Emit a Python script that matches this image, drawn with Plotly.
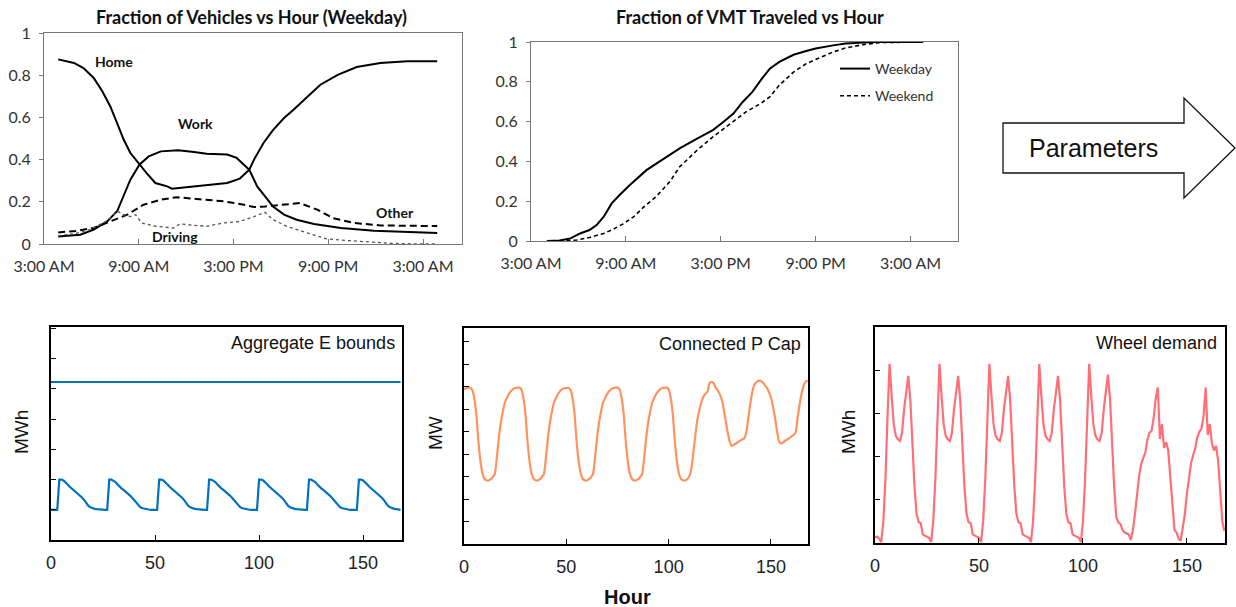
import plotly.graph_objects as go

W, H = 1236, 607

# ---------------- DATA ----------------
# Top-left: fraction of vehicles vs hour (weekday); hour of day, 27 = 3 AM next day
home_hours = [3.9, 4.9, 5.5, 6.15, 6.7, 7.2, 7.63, 8.05, 8.47, 9.04, 9.5, 10.05, 10.8, 11.1, 11.5, 12.3,
              13.3, 14.6, 15.4, 16.0, 16.3, 16.9, 17.5, 18.2, 18.8, 19.7, 20.5, 21.6, 22.8, 24.3, 26.0, 27.9]
home_frac = [0.875, 0.858, 0.834, 0.787, 0.723, 0.652, 0.573, 0.494, 0.431, 0.376, 0.336, 0.289, 0.273,
             0.262, 0.265, 0.27, 0.281, 0.289, 0.31, 0.352, 0.40, 0.479, 0.54, 0.597, 0.636, 0.70, 0.755,
             0.802, 0.839, 0.858, 0.866, 0.866]

work_hours = [3.9, 5.3, 6.15, 7.0, 7.63, 8.05, 8.47, 9.04, 9.63, 10.4, 11.5, 12.5, 13.3, 14.6, 15.2, 16.0,
              16.5, 17.0, 17.5, 18.2, 19.0, 20.1, 21.8, 23.9, 27.9]
work_frac = [0.036, 0.044, 0.068, 0.107, 0.155, 0.226, 0.305, 0.376, 0.415, 0.439, 0.444, 0.436, 0.428,
             0.424, 0.408, 0.352, 0.273, 0.226, 0.178, 0.139, 0.115, 0.095, 0.076, 0.063, 0.052]

other_hours = [3.9, 5.0, 6.15, 7.2, 8.27, 9.3, 10.4, 11.4, 12.3, 13.3, 14.4, 15.4, 16.3, 17.0, 18.0, 19.2,
               20.3, 21.3, 22.6, 24.3, 27.9]
other_frac = [0.055, 0.062, 0.076, 0.107, 0.139, 0.186, 0.21, 0.222, 0.215, 0.21, 0.202, 0.19, 0.175,
              0.178, 0.186, 0.194, 0.163, 0.123, 0.1, 0.088, 0.085]

driving_hours = [3.9, 5.0, 5.9, 7.0, 7.63, 8.05, 8.47, 8.8, 9.2, 10.1, 11.2, 11.6, 12.3, 13.3, 14.4, 15.4,
                 16.3, 17.0, 17.5, 18.4, 19.7, 20.9, 22.1, 23.5, 25.0, 26.9, 27.9]
driving_frac = [0.039, 0.05, 0.068, 0.11, 0.155, 0.139, 0.13, 0.139, 0.099, 0.084, 0.076, 0.095, 0.09,
                0.084, 0.1, 0.107, 0.13, 0.15, 0.115, 0.083, 0.052, 0.024, 0.017, 0.009, 0.003, 0.0, 0.0]

# Top-middle: cumulative fraction of VMT traveled vs hour
vmt_wd_hours = [4.0, 4.8, 5.5, 6.1, 6.7, 7.15, 7.6, 8.1, 8.6, 9.25, 10.3, 11.4, 12.4, 13.5, 14.5, 15.1,
                15.8, 16.4, 17.0, 17.6, 18.1, 18.7, 19.6, 20.4, 21.0, 22.1, 22.9, 24.0, 25.0, 27.8]
vmt_wd_frac = [0.0, 0.002, 0.013, 0.038, 0.055, 0.08, 0.122, 0.189, 0.231, 0.281, 0.356, 0.415, 0.465,
               0.515, 0.557, 0.594, 0.64, 0.70, 0.749, 0.816, 0.866, 0.90, 0.936, 0.955, 0.967, 0.983,
               0.992, 0.997, 1.0, 1.0]
vmt_we_hours = [4.8, 5.9, 6.7, 7.6, 8.2, 8.8, 9.5, 10.1, 10.9, 11.8, 12.4, 13.5, 14.5, 15.6, 16.6, 17.5,
                18.1, 18.7, 19.6, 20.4, 21.3, 22.1, 22.9, 24.0, 25.0, 27.8]
vmt_we_frac = [0.0, 0.005, 0.018, 0.038, 0.059, 0.085, 0.122, 0.169, 0.222, 0.30, 0.373, 0.456, 0.523,
               0.59, 0.649, 0.69, 0.724, 0.783, 0.849, 0.891, 0.921, 0.95, 0.97, 0.987, 0.997, 1.0]

clock_ticks = [3, 9, 15, 21, 27]
clock_labels = ["3:00 AM", "9:00 AM", "3:00 PM", "9:00 PM", "3:00 AM"]

# Bottom: one week, hourly (0..168)
week_hours = list(range(169))
e_upper_bound = 5.23
e_lower_bound = (
    [1.0, 1.0, 1.0, 1.0, 2.0, 2.0, 1.97, 1.92, 1.84, 1.76, 1.7, 1.65, 1.6, 1.54, 1.47, 1.4, 1.32, 1.22, 1.13, 1.08, 1.05, 1.03, 1.02, 1.01]
    + [1.0, 1.0, 1.0, 1.0, 2.0, 2.0, 1.97, 1.92, 1.84, 1.76, 1.7, 1.65, 1.6, 1.54, 1.47, 1.4, 1.32, 1.22, 1.13, 1.08, 1.05, 1.03, 1.02, 1.01]
    + [1.0, 1.0, 1.0, 1.0, 2.0, 2.0, 1.97, 1.92, 1.84, 1.76, 1.7, 1.65, 1.6, 1.54, 1.47, 1.4, 1.32, 1.22, 1.13, 1.08, 1.05, 1.03, 1.02, 1.01]
    + [1.0, 1.0, 1.0, 1.0, 2.0, 2.0, 1.97, 1.92, 1.84, 1.76, 1.7, 1.65, 1.6, 1.54, 1.47, 1.4, 1.32, 1.22, 1.13, 1.08, 1.05, 1.03, 1.02, 1.01]
    + [1.0, 1.0, 1.0, 1.0, 2.0, 2.0, 1.97, 1.92, 1.84, 1.76, 1.7, 1.65, 1.6, 1.54, 1.47, 1.4, 1.32, 1.22, 1.13, 1.08, 1.05, 1.03, 1.02, 1.01]
    + [1.0, 1.0, 1.0, 1.0, 2.0, 2.0, 1.97, 1.92, 1.84, 1.76, 1.7, 1.65, 1.6, 1.54, 1.47, 1.4, 1.32, 1.22, 1.13, 1.08, 1.05, 1.03, 1.02, 1.01]
    + [1.0, 1.0, 1.0, 1.0, 2.0, 2.0, 1.97, 1.92, 1.84, 1.76, 1.7, 1.65, 1.6, 1.54, 1.47, 1.4, 1.32, 1.22, 1.13, 1.08, 1.05, 1.03, 1.02, 1.01, 1.0]
)
p_cap = (
    [6.87, 6.92, 6.95, 6.94, 6.85, 6.5, 5.8, 4.6, 3.7, 3.15, 2.9, 2.83, 2.82, 2.88, 2.97, 3.1, 3.8, 4.7, 5.4, 5.9, 6.3, 6.5, 6.68, 6.8]
    + [6.88, 6.93, 6.95, 6.95, 6.87, 6.5, 5.8, 4.6, 3.7, 3.15, 2.9, 2.83, 2.82, 2.88, 2.97, 3.1, 3.8, 4.7, 5.4, 5.9, 6.3, 6.5, 6.68, 6.8]
    + [6.88, 6.92, 6.94, 6.94, 6.86, 6.5, 5.8, 4.6, 3.7, 3.15, 2.9, 2.83, 2.82, 2.88, 2.97, 3.1, 3.8, 4.7, 5.4, 5.9, 6.3, 6.5, 6.68, 6.8]
    + [6.88, 6.93, 6.95, 6.95, 6.87, 6.5, 5.8, 4.6, 3.7, 3.15, 2.9, 2.83, 2.82, 2.88, 2.97, 3.1, 3.8, 4.7, 5.4, 5.9, 6.3, 6.5, 6.68, 6.8]
    + [6.88, 6.93, 6.95, 6.95, 6.87, 6.5, 5.8, 4.6, 3.7, 3.15, 2.9, 2.83, 2.82, 2.88, 2.99, 3.3, 4.0, 4.8, 5.5, 5.95, 6.3, 6.55, 6.68, 6.78]
    + [7.15, 7.21, 7.15, 6.95, 6.82, 6.65, 6.4, 5.95, 5.4, 4.9, 4.5, 4.36, 4.42, 4.47, 4.54, 4.6, 4.65, 4.7, 5.0, 5.65, 6.3, 6.8, 7.1, 7.2]
    + [7.26, 7.24, 7.18, 7.05, 6.95, 6.75, 6.5, 6.1, 5.6, 5.0, 4.55, 4.47, 4.52, 4.6, 4.65, 4.7, 4.78, 4.84, 4.95, 5.6, 6.2, 6.7, 7.05, 7.22, 7.26]
)
wheel_demand = (
    [0.13, 0.15, 0.1, 0.02, 0.5, 1.45, 2.9, 4.15, 3.4, 2.75, 2.48, 2.4, 2.36, 2.55, 3.1, 3.55, 3.87, 3.3, 2.25, 1.3, 0.67, 0.48, 0.46, 0.2]
    + [0.17, 0.15, 0.12, 0.02, 0.5, 1.45, 2.9, 4.15, 3.4, 2.75, 2.48, 2.4, 2.36, 2.55, 3.1, 3.55, 3.87, 3.3, 2.25, 1.3, 0.67, 0.48, 0.46, 0.2]
    + [0.17, 0.15, 0.12, 0.02, 0.5, 1.45, 2.9, 4.15, 3.4, 2.75, 2.48, 2.4, 2.36, 2.55, 3.1, 3.55, 3.87, 3.3, 2.25, 1.3, 0.67, 0.48, 0.46, 0.2]
    + [0.17, 0.15, 0.12, 0.02, 0.5, 1.45, 2.9, 4.15, 3.4, 2.75, 2.48, 2.4, 2.36, 2.55, 3.1, 3.55, 3.87, 3.3, 2.25, 1.3, 0.67, 0.48, 0.46, 0.2]
    + [0.17, 0.15, 0.12, 0.02, 0.5, 1.45, 2.9, 4.15, 3.4, 2.75, 2.48, 2.4, 2.36, 2.55, 3.1, 3.55, 3.9, 3.35, 2.3, 1.3, 0.6, 0.48, 0.44, 0.3]
    + [0.24, 0.22, 0.2, 0.07, 0.3, 0.67, 1.15, 1.55, 1.83, 1.97, 2.1, 2.4, 2.55, 2.6, 2.9, 3.35, 3.6, 2.41, 2.75, 2.2, 2.33, 2.14, 1.5, 0.75]
    + [0.3, 0.24, 0.1, 0.05, 0.35, 0.67, 1.15, 1.55, 1.85, 2.03, 2.2, 2.45, 2.58, 2.65, 2.95, 3.6, 2.5, 2.75, 2.3, 2.14, 2.25, 1.9, 1.1, 0.5, 0.28]
)
hour_ticks = [0, 50, 100, 150]

# ---------------- LAYOUT HELPERS ----------------
def fx(p):
    return p / W

def fy(p):
    return 1 - p / H

# plot boxes in pixels: left, right, top, bottom
BOX1 = (44, 462, 33, 244)
BOX2 = (531, 958, 42, 241)
BOX3 = (51, 402, 327, 540)
BOX4 = (464, 808, 328, 544)
BOX5 = (875, 1225, 327, 543)

def xdom(b):
    return [fx(b[0]), fx(b[1])]

def ydom(b):
    return [fy(b[3]), fy(b[2])]

TOPFONT = "Lato, 'Open Sans', sans-serif"
BOTFONT = "'Liberation Sans', Arial, sans-serif"
BLACK = "#000000"
BLUE = "#0072BD"
ORANGE = "#FF935F"
PINK = "#FF6F78"

fig = go.Figure()

# Panel 1 traces
fig.add_trace(go.Scatter(x=home_hours, y=home_frac, mode="lines", line=dict(color=BLACK, width=2),
                         xaxis="x", yaxis="y", showlegend=False))
fig.add_trace(go.Scatter(x=work_hours, y=work_frac, mode="lines", line=dict(color=BLACK, width=2),
                         xaxis="x", yaxis="y", showlegend=False))
fig.add_trace(go.Scatter(x=other_hours, y=other_frac, mode="lines",
                         line=dict(color=BLACK, width=2, dash="7px,4px"),
                         xaxis="x", yaxis="y", showlegend=False))
fig.add_trace(go.Scatter(x=driving_hours, y=driving_frac, mode="lines",
                         line=dict(color="#555555", width=1.3, dash="dot"),
                         xaxis="x", yaxis="y", showlegend=False))

# Panel 2 traces
fig.add_trace(go.Scatter(x=vmt_wd_hours, y=vmt_wd_frac, mode="lines", name="Weekday",
                         line=dict(color=BLACK, width=2), xaxis="x2", yaxis="y2",
                         legendgroup="a", showlegend=True))
fig.add_trace(go.Scatter(x=vmt_we_hours, y=vmt_we_frac, mode="lines", name="Weekend",
                         line=dict(color=BLACK, width=1.6, dash="4px,3px"), xaxis="x2", yaxis="y2",
                         legendgroup="b", showlegend=True))

# Bottom panels
fig.add_trace(go.Scatter(x=[week_hours[0], week_hours[-1]], y=[e_upper_bound, e_upper_bound], mode="lines",
                         line=dict(color=BLUE, width=2.2), xaxis="x3", yaxis="y3", showlegend=False))
fig.add_trace(go.Scatter(x=week_hours, y=e_lower_bound, mode="lines",
                         line=dict(color=BLUE, width=2.2), xaxis="x3", yaxis="y3", showlegend=False))
fig.add_trace(go.Scatter(x=week_hours, y=p_cap, mode="lines",
                         line=dict(color=ORANGE, width=2.2, shape="spline", smoothing=0.6),
                         xaxis="x4", yaxis="y4", showlegend=False))
fig.add_trace(go.Scatter(x=week_hours, y=wheel_demand, mode="lines", line=dict(color=PINK, width=2.2),
                         xaxis="x5", yaxis="y5", showlegend=False))

top_x_common = dict(tickvals=clock_ticks, ticktext=clock_labels, ticks="inside", ticklen=5,
                    tickcolor="#777777", showline=True, linecolor="#777777", linewidth=1, mirror=True,
                    showgrid=False, zeroline=False, automargin=False,
                    tickfont=dict(family=TOPFONT, size=16, color="#333333"), ticklabelstandoff=8)
top_y_common = dict(range=[0, 1], tickvals=[0, 0.2, 0.4, 0.6, 0.8, 1],
                    ticktext=["0", "0.2", "0.4", "0.6", "0.8", "1"], ticks="outside", ticklen=4,
                    tickcolor="#777777", showline=True, linecolor="#777777", linewidth=1, mirror=True,
                    showgrid=False, zeroline=False, automargin=False,
                    tickfont=dict(family=TOPFONT, size=16, color="#333333"), ticklabelstandoff=5)

bot_x_common = dict(tickvals=hour_ticks, ticks="inside", ticklen=5, tickcolor=BLACK, tickwidth=1.2,
                    showline=True, linecolor=BLACK, linewidth=1.5, mirror=True, showgrid=False,
                    zeroline=False, automargin=False,
                    tickfont=dict(family=BOTFONT, size=18, color="#222222"), ticklabelstandoff=6)
bot_y_common = dict(dtick=1, ticks="inside", ticklen=5, tickcolor=BLACK, tickwidth=1.2, showticklabels=False,
                    showline=True, linecolor=BLACK, linewidth=1.5, mirror=True, showgrid=False,
                    zeroline=False, automargin=False)

layout = dict(
    template="none",
    width=W, height=H, autosize=False,
    margin=dict(l=0, r=0, t=0, b=0, pad=0),
    paper_bgcolor="white", plot_bgcolor="white",
    xaxis=dict(domain=xdom(BOX1), range=[3, 29.47], anchor="y", **top_x_common),
    yaxis=dict(domain=ydom(BOX1), anchor="x", **top_y_common),
    xaxis2=dict(domain=xdom(BOX2), range=[3, 30], anchor="y2", **top_x_common),
    yaxis2=dict(domain=ydom(BOX2), anchor="x2", **top_y_common),
    xaxis3=dict(domain=xdom(BOX3), range=[0, 168.7], anchor="y3", **bot_x_common),
    yaxis3=dict(domain=ydom(BOX3), range=[0, 7.05], anchor="x3", **bot_y_common),
    xaxis4=dict(domain=xdom(BOX4), range=[0, 168.1], anchor="y4", **bot_x_common),
    yaxis4=dict(domain=ydom(BOX4), range=[0, 9.6], anchor="x4", **bot_y_common),
    xaxis5=dict(domain=xdom(BOX5), range=[0, 168.3], anchor="y5", **bot_x_common),
    yaxis5=dict(domain=ydom(BOX5), range=[0, 5.0], anchor="x5", **bot_y_common),
    legend=dict(x=fx(835), y=fy(53), xanchor="left", yanchor="top", bgcolor="rgba(0,0,0,0)",
                font=dict(family=TOPFONT, size=14, color="#333333"), tracegroupgap=6,
                itemwidth=30),
)
fig.update_layout(**layout)

ann = []
# titles
ann.append(dict(text="<b>Fraction of Vehicles vs Hour (Weekday)</b>", x=fx(251), y=fy(17), xref="paper",
                yref="paper", xanchor="center", yanchor="middle", showarrow=False,
                font=dict(family=TOPFONT, size=18, color="#111111")))
ann.append(dict(text="<b>Fraction of VMT Traveled vs Hour</b>", x=fx(750), y=fy(17), xref="paper",
                yref="paper", xanchor="center", yanchor="middle", showarrow=False,
                font=dict(family=TOPFONT, size=18, color="#111111")))
# curve labels in panel 1 (data coords)
for txt, hx, vy in [("Home", 7.45, 0.866), ("Work", 12.6, 0.573), ("Other", 25.2, 0.15), ("Driving", 11.3, 0.036)]:
    ann.append(dict(text="<b>" + txt + "</b>", x=hx, y=vy, xref="x", yref="y", xanchor="center",
                    yanchor="middle", showarrow=False, font=dict(family=TOPFONT, size=14, color="#111111")))
# inner titles of bottom panels
for txt, rpx, cy in [("Aggregate E bounds", 397, 343), ("Connected P Cap", 803, 344), ("Wheel demand", 1219, 343)]:
    ann.append(dict(text=txt, x=fx(rpx), y=fy(cy), xref="paper", yref="paper", xanchor="right",
                    yanchor="middle", showarrow=False, font=dict(family=BOTFONT, size=18, color="#111111")))
# y-axis titles
for txt, cx, cy in [("MWh", 21, 432), ("MW", 435, 433), ("MWh", 848, 432)]:
    ann.append(dict(text=txt, x=fx(cx), y=fy(cy), xref="paper", yref="paper", textangle=-90,
                    xanchor="center", yanchor="middle", showarrow=False,
                    font=dict(family=BOTFONT, size=19, color="#111111")))
# shared x title
ann.append(dict(text="<b>Hour</b>", x=fx(627), y=fy(597), xref="paper", yref="paper", xanchor="center",
                yanchor="middle", showarrow=False, font=dict(family=BOTFONT, size=20, color="#111111")))
# arrow label
ann.append(dict(text="Parameters", x=fx(1093), y=fy(148), xref="paper", yref="paper", xanchor="center",
                yanchor="middle", showarrow=False, font=dict(family=BOTFONT, size=25, color="#111111")))
fig.update_layout(annotations=ann)

# block arrow decoration
arrow_pts = [(1003, 123), (1184, 123), (1184, 98), (1235, 148), (1184, 198), (1184, 173), (1003, 173)]
path = "M " + " L ".join(f"{fx(a):.5f},{fy(b):.5f}" for a, b in arrow_pts) + " Z"
fig.add_shape(type="path", path=path, xref="paper", yref="paper", line=dict(color="#111111", width=1.3),
              fillcolor="white", layer="below")

fig.write_html("out.html", config={"displayModeBar": False},
               post_script="document.body.style.margin='0px';")
